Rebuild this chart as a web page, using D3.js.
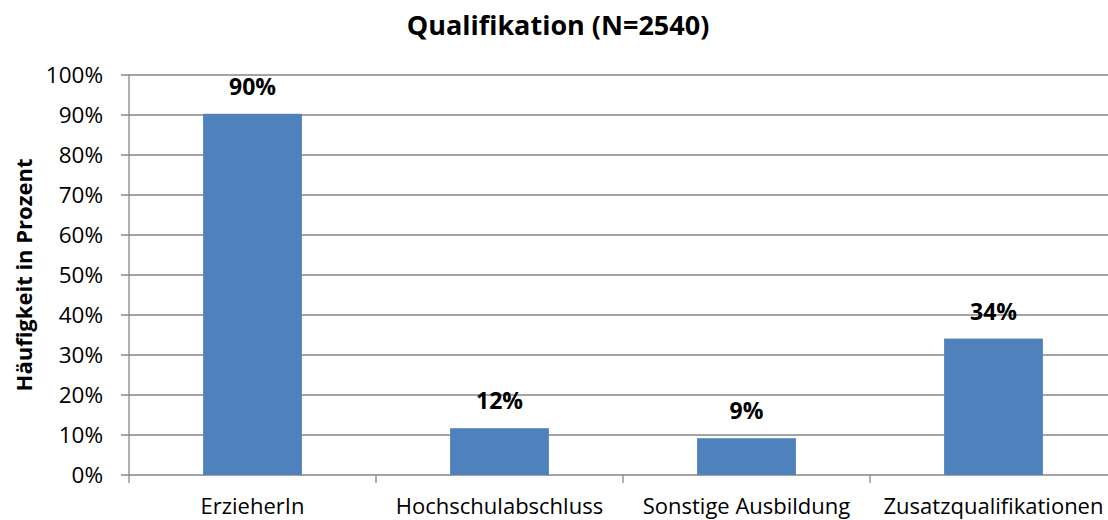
<!DOCTYPE html>
<html>
<head>
<meta charset="utf-8">
<script src="https://cdn.jsdelivr.net/npm/d3@7"></script>
<style>
  body { margin: 0; background: #fff; }
  svg text { font-family: "Open Sans", sans-serif; fill: #000; }
</style>
</head>
<body>
<svg id="chart" width="1108" height="520"></svg>
<script>
var categories = ['ErzieherIn', 'Hochschulabschluss', 'Sonstige Ausbildung', 'Zusatzqualifikationen'];
var values = [0.903, 0.117, 0.092, 0.341];
var valueLabels = ['90%', '12%', '9%', '34%'];
var yTicks = [0, 0.1, 0.2, 0.3, 0.4, 0.5, 0.6, 0.7, 0.8, 0.9, 1.0];

var svg = d3.select('#chart');

var LEFT = 129, RIGHT = 1117, TOP = 75, BOTTOM = 475;
var GRID = '#868686';

var x = d3.scaleBand()
    .domain(categories)
    .range([LEFT, RIGHT])
    .paddingInner(0.6)
    .paddingOuter(0.3);

var y = d3.scaleLinear()
    .domain([0, 1])
    .range([BOTTOM, TOP]);

// gridlines + y ticks
svg.append('g')
    .selectAll('line')
    .data(yTicks)
    .enter()
    .append('line')
    .attr('x1', LEFT - 8)
    .attr('x2', RIGHT)
    .attr('y1', function(d){ return y(d); })
    .attr('y2', function(d){ return y(d); })
    .attr('stroke', GRID)
    .attr('stroke-width', 1.3);

svg.append('g')
    .selectAll('text')
    .data(yTicks)
    .enter()
    .append('text')
    .attr('x', 103)
    .attr('y', function(d){ return y(d); })
    .attr('dy', '0.36em')
    .attr('text-anchor', 'end')
    .style('font-size', '22.5px')
    .text(d3.format('.0%'));

// y axis line
svg.append('line')
    .attr('x1', LEFT).attr('x2', LEFT)
    .attr('y1', TOP).attr('y2', BOTTOM)
    .attr('stroke', GRID)
    .attr('stroke-width', 1.3);

// category boundary ticks
var step = x.step();
var bounds = categories.map(function(c){ return x(c) + x.bandwidth() / 2 - step / 2; });
bounds.push(RIGHT);
svg.append('g')
    .selectAll('line')
    .data(bounds)
    .enter()
    .append('line')
    .attr('x1', function(d){ return d; })
    .attr('x2', function(d){ return d; })
    .attr('y1', BOTTOM)
    .attr('y2', BOTTOM + 8)
    .attr('stroke', GRID)
    .attr('stroke-width', 1.3);

// bars
svg.append('g')
    .selectAll('rect')
    .data(values)
    .enter()
    .append('rect')
    .attr('x', function(d, i){ return x(categories[i]); })
    .attr('width', x.bandwidth())
    .attr('y', function(d){ return y(d); })
    .attr('height', function(d){ return BOTTOM - y(d); })
    .attr('fill', '#4F81BD');

// value labels
svg.append('g')
    .selectAll('text')
    .data(values)
    .enter()
    .append('text')
    .attr('x', function(d, i){ return x(categories[i]) + x.bandwidth() / 2; })
    .attr('y', function(d){ return y(d) - 19; })
    .attr('text-anchor', 'middle')
    .style('font-size', '23px')
    .style('font-weight', 'bold')
    .text(function(d, i){ return valueLabels[i]; });

// category labels
svg.append('g')
    .selectAll('text')
    .data(categories)
    .enter()
    .append('text')
    .attr('x', function(d){ return x(d) + x.bandwidth() / 2; })
    .attr('y', 514)
    .attr('text-anchor', 'middle')
    .style('font-size', '22px')
    .text(function(d){ return d; });

// title
svg.append('text')
    .attr('x', 558)
    .attr('y', 35)
    .attr('text-anchor', 'middle')
    .style('font-size', '27px')
    .style('font-weight', 'bold')
    .text('Qualifikation (N=2540)');

// y axis title
svg.append('text')
    .attr('transform', 'translate(32,' + ((TOP + BOTTOM) / 2) + ') rotate(-90)')
    .attr('text-anchor', 'middle')
    .style('font-size', '22px')
    .style('font-weight', 'bold')
    .text('Häufigkeit in Prozent');
</script>
</body>
</html>
